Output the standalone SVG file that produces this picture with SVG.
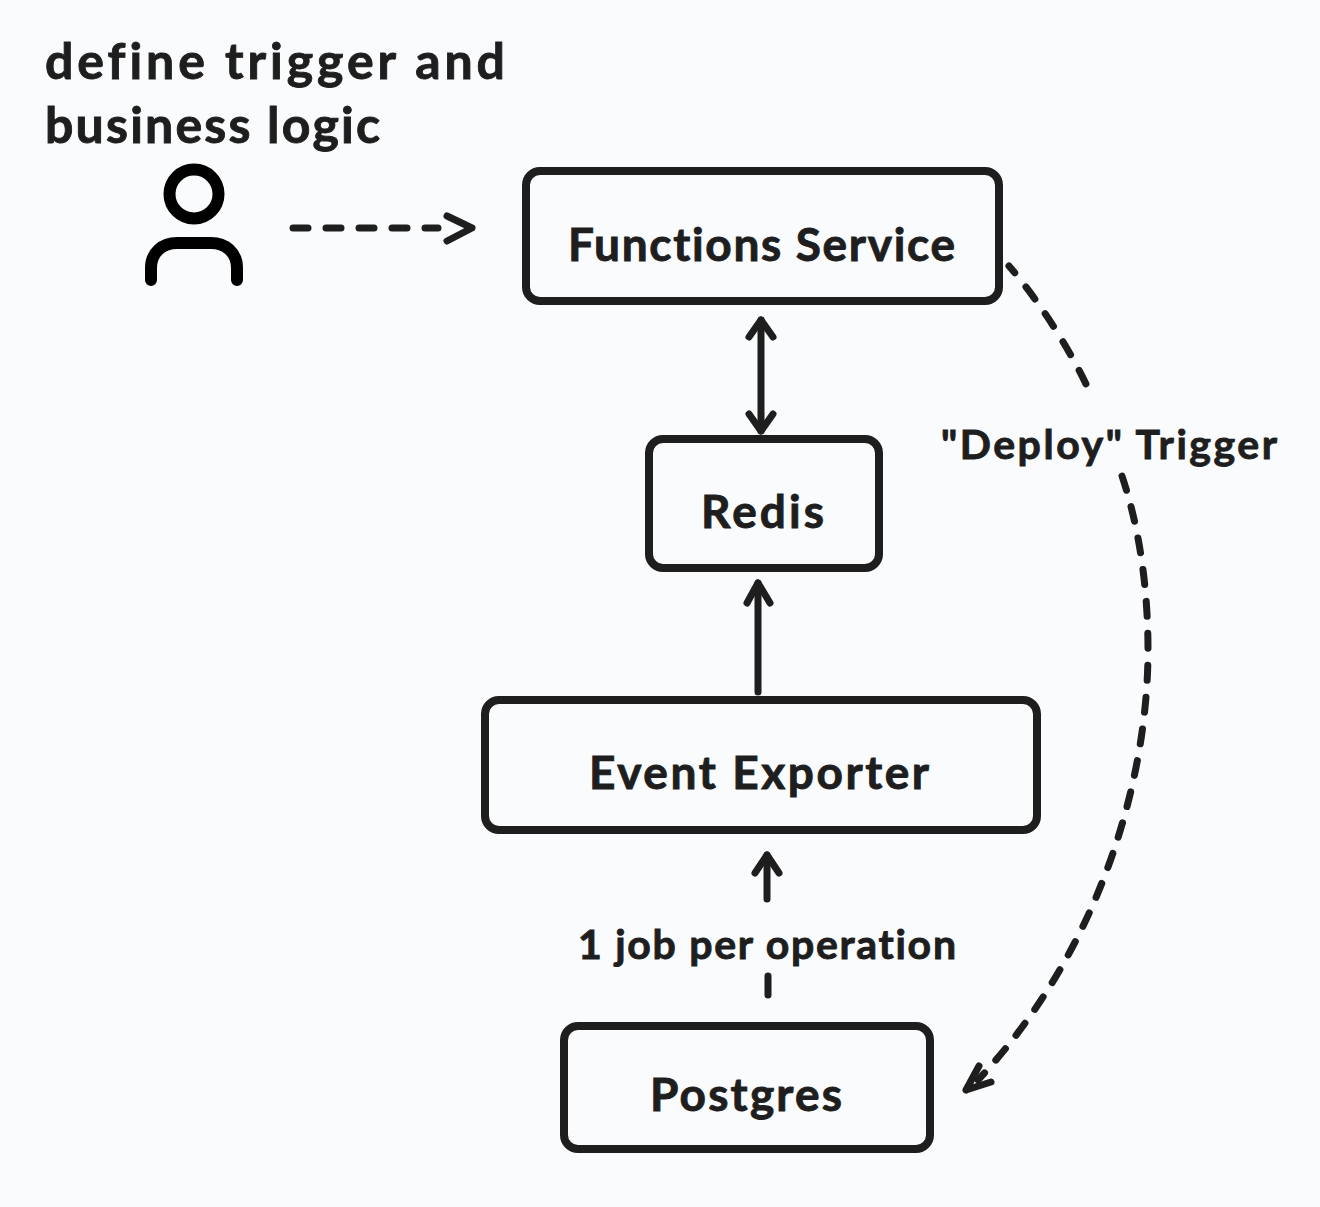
<svg xmlns="http://www.w3.org/2000/svg" width="1320" height="1207" viewBox="0 0 1320 1207">
<style>
.box{fill:none;stroke:#1e1e1e;stroke-width:8;stroke-linejoin:round}
.ln{fill:none;stroke:#1e1e1e;stroke-width:7;stroke-linecap:round;stroke-linejoin:round}
text{font-family:"Lato","Liberation Sans",sans-serif;font-weight:700;fill:#1e1e1e;stroke:#1e1e1e;stroke-width:.9;font-variant-ligatures:none}
.t1{font-size:50px}
.t2{font-size:46px}
.t3{font-size:41px}
</style>
<rect width="1320" height="1207" fill="#f9fbfd"/>
<g id="connectors">
<path class="ln" d="M293 228H438" stroke-dasharray="15 18"/>
<path class="ln" d="M447 216L472 228L447 241"/>
<path class="ln" d="M1009 266C1040 302 1072 352 1092 397" stroke-dasharray="9 18 15 18 15 18 15 18 15 18 15 18"/>
<path class="ln" d="M1122 476C1140 530 1148 590 1148 650C1148 780 1100 950 978 1080" stroke-dasharray="15 17"/>
<path class="ln" d="M966 1090L979 1066M966 1090L991 1082"/>
<path class="ln" d="M761 320L761 431"/>
<path class="ln" d="M749 337L761 320L773 337M749 414L761 431L773 414"/>
<path class="ln" d="M758 692L758 583"/>
<path class="ln" d="M747 603L758 583L770 603"/>
<path class="ln" d="M767 899L767 855"/>
<path class="ln" d="M755 873L767 855L779 873"/>
<path class="ln" d="M768 976L768 995"/>
</g>
<g id="actor">
<circle cx="194" cy="194" r="24.5" fill="none" stroke="#000" stroke-width="12"/>
<path d="M151 280V268C151 252 163 243 177 243H211C225 243 237 252 237 268V280" fill="none" stroke="#000" stroke-width="12" stroke-linecap="round"/>
</g>
<g id="actor-label">
<text class="t1" x="45" y="79" textLength="460">define trigger and</text>
<text class="t1" x="45" y="143" textLength="335">business logic</text>
</g>
<g id="functions-service">
<rect class="box" x="526" y="171" width="473" height="130" rx="14"/>
<text class="t2" x="568" y="261" textLength="387">Functions Service</text>
</g>
<g id="redis">
<rect class="box" x="649" y="439" width="230" height="129" rx="14"/>
<text class="t2" x="701" y="528" textLength="123">Redis</text>
</g>
<g id="event-exporter">
<rect class="box" x="485" y="700" width="552" height="130" rx="14"/>
<text class="t2" x="589" y="789" textLength="340">Event Exporter</text>
</g>
<g id="postgres">
<rect class="box" x="564" y="1026" width="366" height="123" rx="14"/>
<text class="t2" x="650" y="1111" textLength="192">Postgres</text>
</g>
<g id="edge-labels">
<text class="t3" x="941" y="459" textLength="336">"Deploy" Trigger</text>
<text class="t3" x="578" y="959" textLength="378">1 job per operation</text>
</g>
</svg>
